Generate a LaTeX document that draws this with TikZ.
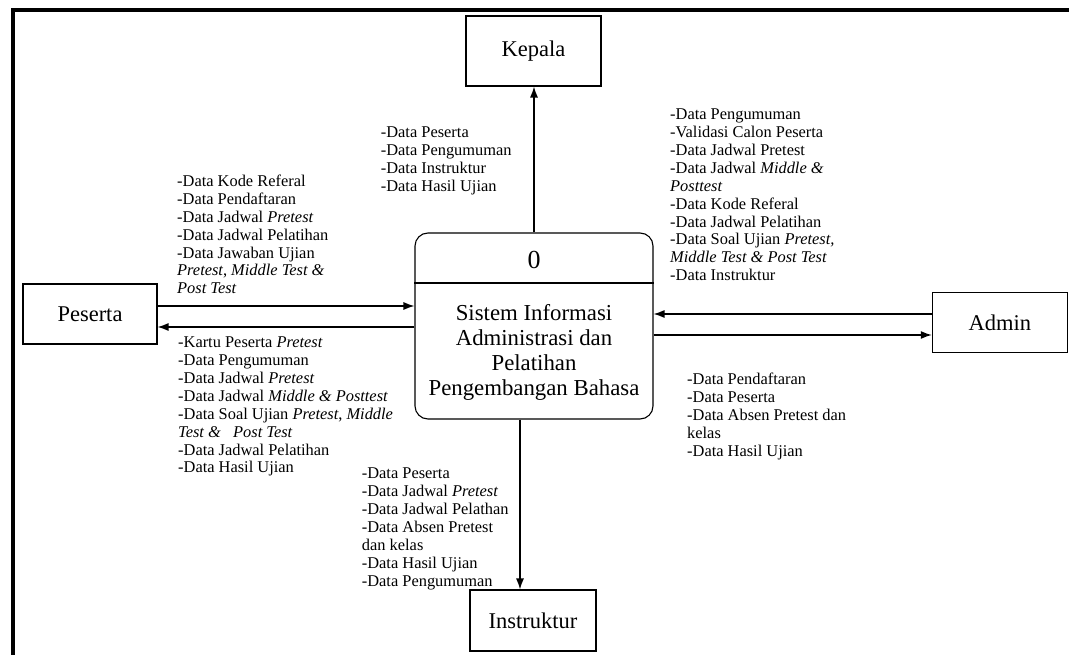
\documentclass[tikz,border=0pt]{standalone}
\usepackage{fontspec}
\setmainfont{Liberation Serif}
\usetikzlibrary{arrows.meta}
\begin{document}
\begin{tikzpicture}[x=1pt,y=-1pt,
  ent/.style={draw,line width=1.1pt,inner sep=0pt,font=\fontsize{22.5}{25}\selectfont},
  flow/.style={line width=1.2pt,-{Latex[length=11pt,width=8pt]}},
  lbl/.style={anchor=north west,inner sep=0pt,align=left,font=\fontsize{16.4}{17.85}\selectfont}]
\useasboundingbox (0,0) rectangle (1069,655);
\draw[line width=4pt] (13,665) -- (13,10.5) -- (1080,10.5);

% entities
\node[ent,minimum width=135pt,minimum height=70pt] (kepala) at (533.5,51) {Kepala};
\node[ent,minimum width=134pt,minimum height=60pt] (peserta) at (90,314) {Peserta};
\node[ent,minimum width=135pt,minimum height=60pt] (admin) at (999.8,322.7) {Admin};
\node[ent,minimum width=126pt,minimum height=61pt] (instr) at (533,620.5) {Instruktur};

% process
\node[draw,rounded corners=13pt,line width=1.1pt,minimum width=238pt,minimum height=186pt,inner sep=0pt] (p) at (534,326) {};
\coordinate (div) at (0,283);
\draw[line width=1.1pt] (p.west |- div) -- (p.east |- div);
\node[font=\fontsize{26}{28}\selectfont] (zero) at (534,260) {0};
\node[align=center,font=\fontsize{22.8}{25}\selectfont] (ptext) at (534,352.5) {Sistem Informasi\\Administrasi dan\\Pelatihan\\Pengembangan Bahasa};

% flows
\coordinate (y1) at (0,306);
\coordinate (y2) at (0,327);
\coordinate (y3) at (0,314);
\coordinate (y4) at (0,335);
\coordinate (xi) at (520,0);
\draw[flow] (peserta.east |- y1) -- (p.west |- y1);
\draw[flow] (p.west |- y2) -- (peserta.east |- y2);
\draw[flow] (admin.west |- y3) -- (p.east |- y3);
\draw[flow] (p.east |- y4) -- (admin.west |- y4);
\draw[flow] (p.north) -- (p.north |- kepala.south);
\draw[flow] (p.south -| xi) -- (instr.north -| xi);

% labels
\node[lbl] (lk) at (380.7,127) {-Data Peserta\\-Data Pengumuman\\-Data Instruktur\\-Data Hasil Ujian};
\node[lbl] (lpi) at (177,175) {-Data Kode Referal\\-Data Pendaftaran\\-Data Jadwal \textit{Pretest}\\-Data Jadwal Pelatihan\\-Data Jawaban Ujian\\\textit{Pretest}, \textit{Middle Test \&}\\\textit{Post Test}};
\node[lbl] (lpo) at (178,337) {-Kartu Peserta \textit{Pretest}\\-Data Pengumuman\\-Data Jadwal \textit{Pretest}\\-Data Jadwal \textit{Middle \& Posttest}\\-Data Soal Ujian \textit{Pretest}, \textit{Middle}\\\textit{Test \&}\ \ \ \textit{Post Test}\\-Data Jadwal Pelatihan\\-Data Hasil Ujian};
\node[lbl] (lai) at (670,109) {-Data Pengumuman\\-Validasi Calon Peserta\\-Data Jadwal Pretest\\-Data Jadwal \textit{Middle \&}\\\textit{Posttest}\\-Data Kode Referal\\-Data Jadwal Pelatihan\\-Data Soal Ujian \textit{Pretest,}\\\textit{Middle Test \& Post Test}\\-Data Instruktur};
\node[lbl] (lao) at (687,373) {-Data Pendaftaran\\-Data Peserta\\-Data Absen Pretest dan\\kelas\\-Data Hasil Ujian};
\node[lbl] (li) at (361.7,468) {-Data Peserta\\-Data Jadwal \textit{Pretest}\\-Data Jadwal Pelathan\\-Data Absen Pretest\\dan kelas\\-Data Hasil Ujian\\-Data Pengumuman};
\end{tikzpicture}
\end{document}
